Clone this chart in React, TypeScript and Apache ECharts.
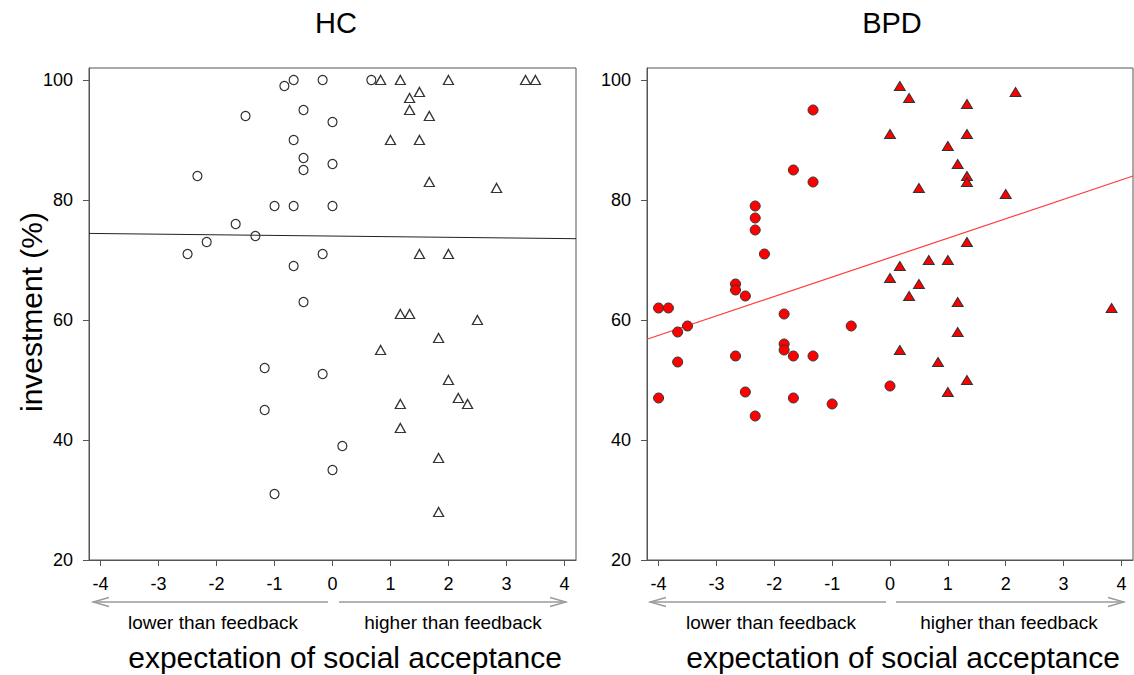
import React, { useEffect, useRef } from "react";
import * as echarts from "echarts";

const X_TICKS = [-4, -3, -2, -1, 0, 1, 2, 3, 4];
const Y_TICKS = [20, 40, 60, 80, 100];

const HC_CIRCLES: number[][] = [
  [-0.83, 99], [-0.67, 100], [-0.17, 100], [0.67, 100], [-1.5, 94], [-0.5, 95], [0, 93],
  [-0.67, 90], [-0.5, 87], [-0.5, 85], [0, 86], [-2.33, 84], [-1, 79], [-0.67, 79], [0, 79],
  [-1.67, 76], [-1.33, 74], [-2.17, 73], [-2.5, 71], [-0.17, 71], [-0.67, 69], [-0.5, 63],
  [-1.17, 52], [-0.17, 51], [-1.17, 45], [0.17, 39], [0, 35], [-1, 31],
];
const HC_TRIANGLES: number[][] = [
  [0.83, 100], [1.17, 100], [2, 100], [3.33, 100], [3.5, 100], [1.5, 98], [1.33, 97],
  [1.33, 95], [1.67, 94], [1, 90], [1.5, 90], [1.67, 83], [2.83, 82], [1.5, 71], [2, 71],
  [1.17, 61], [1.33, 61], [2.5, 60], [1.83, 57], [0.83, 55], [2, 50], [2.17, 47], [2.33, 46],
  [1.17, 46], [1.17, 42], [1.83, 37], [1.83, 28],
];
const HC_FIT: number[][] = [[-4.2, 74.43], [4.2, 73.55]];

const BPD_CIRCLES: number[][] = [
  [-1.33, 95], [-1.67, 85], [-1.33, 83], [-2.33, 79], [-2.33, 77], [-2.33, 75], [-2.17, 71],
  [-2.67, 66], [-2.67, 65], [-2.5, 64], [-4, 62], [-3.83, 62], [-1.83, 61], [-3.67, 58],
  [-3.5, 59], [-3.67, 53], [-4, 47], [-2.67, 54], [-2.5, 48], [-2.33, 44], [-1.83, 56],
  [-1.83, 55], [-1.67, 54], [-1.33, 54], [-1.67, 47], [-1, 46], [-0.67, 59], [0, 49],
];
const BPD_TRIANGLES: number[][] = [
  [0.17, 99], [0.33, 97], [2.17, 98], [1.33, 96], [0, 91], [1.33, 91], [1, 89], [1.17, 86],
  [1.33, 84], [1.33, 83], [0.5, 82], [2, 81], [1.33, 73], [0.67, 70], [1, 70], [0.17, 69],
  [0, 67], [0.5, 66], [0.33, 64], [1.17, 63], [3.83, 62], [1.17, 58], [0.17, 55], [0.83, 53],
  [1.33, 50], [1, 48],
];
const BPD_FIT: number[][] = [[-4.2, 56.8], [4.2, 84.0]];

const FONT = "'Liberation Sans', Arial, Helvetica, sans-serif";
const FRAME = "#555";
const ARROW = "#9a9a9a";

function arrowPair(leftTip: number, leftEnd: number, rightStart: number, rightTip: number, y: number) {
  const len = 16;
  const h = 4.5;
  const style = { stroke: ARROW, lineWidth: 1.3, fill: "none" };
  return [
    { type: "line", shape: { x1: leftTip, y1: y, x2: leftEnd, y2: y }, style },
    { type: "polyline", shape: { points: [[leftTip + len, y - h], [leftTip, y], [leftTip + len, y + h]] }, style },
    { type: "line", shape: { x1: rightStart, y1: y, x2: rightTip, y2: y }, style },
    { type: "polyline", shape: { points: [[rightTip - len, y - h], [rightTip, y], [rightTip - len, y + h]] }, style },
  ];
}

function txt(text: string, x: number, y: number, size: number, rotation = 0) {
  return {
    type: "text",
    x,
    y,
    rotation,
    style: {
      text,
      fontSize: size,
      fontFamily: FONT,
      fill: "#000",
      textAlign: "center",
      textVerticalAlign: "middle",
    },
  };
}

function xAxisDef(gridIndex: number) {
  return {
    type: "value",
    gridIndex,
    min: -4.2,
    max: 4.2,
    axisLine: { show: true, onZero: false, lineStyle: { color: FRAME, width: 1 } },
    axisTick: { show: true, length: 6, customValues: X_TICKS, lineStyle: { color: FRAME } },
    axisLabel: { customValues: X_TICKS, fontSize: 18, fontFamily: FONT, color: "#000", margin: 15 },
    splitLine: { show: false },
  };
}

function yAxisDef(gridIndex: number) {
  return {
    type: "value",
    gridIndex,
    min: 20,
    max: 102,
    axisLine: { show: true, onZero: false, lineStyle: { color: FRAME, width: 1 } },
    axisTick: { show: true, length: 6, customValues: Y_TICKS, lineStyle: { color: FRAME } },
    axisLabel: { customValues: Y_TICKS, fontSize: 18, fontFamily: FONT, color: "#000", margin: 16 },
    splitLine: { show: false },
  };
}

export default function App() {
  const ref = useRef<HTMLDivElement>(null);

  useEffect(() => {
    if (!ref.current) return;
    const chart = echarts.init(ref.current, undefined, { renderer: "svg" });
    const option: any = {
      animation: false,
      backgroundColor: "#fff",
      grid: [
        { left: 89, top: 68, width: 487, height: 492, show: true, borderColor: FRAME, borderWidth: 1, backgroundColor: "transparent" },
        { left: 647, top: 68, width: 486, height: 492, show: true, borderColor: FRAME, borderWidth: 1, backgroundColor: "transparent" },
      ],
      xAxis: [xAxisDef(0), xAxisDef(1)],
      yAxis: [yAxisDef(0), yAxisDef(1)],
      series: [
        {
          type: "line", xAxisIndex: 0, yAxisIndex: 0, data: HC_FIT, symbol: "none", z: 1,
          lineStyle: { color: "#222", width: 1 },
        },
        {
          type: "scatter", xAxisIndex: 0, yAxisIndex: 0, data: HC_CIRCLES, symbol: "circle", symbolSize: 9, z: 3,
          itemStyle: { color: "rgba(0,0,0,0)", borderColor: "#333", borderWidth: 1.2, opacity: 1 },
        },
        {
          type: "scatter", xAxisIndex: 0, yAxisIndex: 0, data: HC_TRIANGLES, symbol: "triangle", symbolSize: [10, 9], z: 3,
          itemStyle: { color: "rgba(0,0,0,0)", borderColor: "#333", borderWidth: 1.3, opacity: 1 },
        },
        {
          type: "line", xAxisIndex: 1, yAxisIndex: 1, data: BPD_FIT, symbol: "none", z: 1,
          lineStyle: { color: "#ff3b3b", width: 1.2 },
        },
        {
          type: "scatter", xAxisIndex: 1, yAxisIndex: 1, data: BPD_CIRCLES, symbol: "circle", symbolSize: 10, z: 3,
          itemStyle: { color: "#ff0000", borderColor: "#333", borderWidth: 1, opacity: 1 },
        },
        {
          type: "scatter", xAxisIndex: 1, yAxisIndex: 1, data: BPD_TRIANGLES, symbol: "triangle", symbolSize: [11, 9], z: 3,
          itemStyle: { color: "#ff0000", borderColor: "#333", borderWidth: 1, opacity: 1 },
        },
      ],
      graphic: [
        txt("HC", 336, 23, 29),
        txt("BPD", 892, 23, 29),
        txt("investment (%)", 31, 312, 30, Math.PI / 2),
        ...arrowPair(93, 328, 339, 566, 602),
        ...arrowPair(650, 886, 896, 1124, 602),
        txt("lower than feedback", 213, 622, 19),
        txt("higher than feedback", 453, 622, 19),
        txt("lower than feedback", 771, 622, 19),
        txt("higher than feedback", 1009, 622, 19),
        txt("expectation of social acceptance", 345, 657, 30),
        txt("expectation of social acceptance", 903, 657, 30),
      ],
    };
    chart.setOption(option);
    return () => chart.dispose();
  }, []);

  return (
    <div
      ref={ref}
      style={{ position: "fixed", left: 0, top: 0, width: 1134, height: 675, background: "#fff" }}
    />
  );
}
